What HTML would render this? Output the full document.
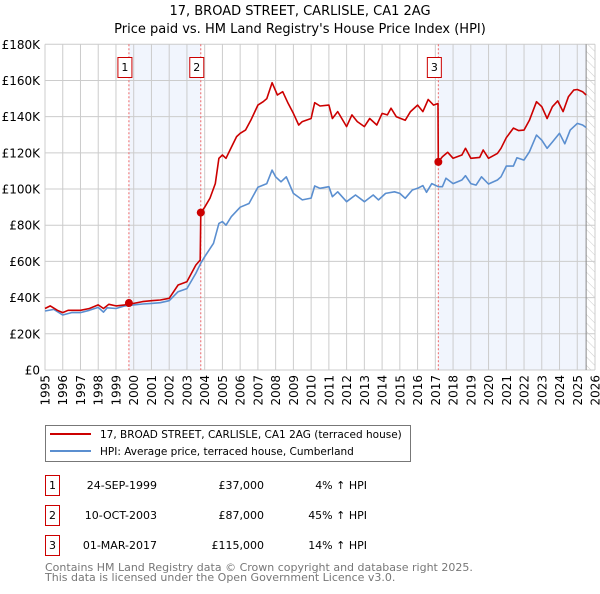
<!DOCTYPE html>
<html><head><meta charset="utf-8"><style>
body{margin:0;background:#fff;font-family:"DejaVu Sans","Liberation Sans",sans-serif;}
svg text{font-family:"DejaVu Sans","Liberation Sans",sans-serif;}
</style></head><body>
<svg id="chart" width="600" height="590" viewBox="0 0 600 590" xmlns="http://www.w3.org/2000/svg">
<defs>
<pattern id="hatch" width="6" height="6" patternUnits="userSpaceOnUse" patternTransform="rotate(-45)">
<line x1="0" y1="0" x2="0" y2="6" stroke="#ccc" stroke-width="1"/>
</pattern>
</defs>
<text x="300" y="15" text-anchor="middle" font-size="13" fill="#000">17, BROAD STREET, CARLISLE, CA1 2AG</text>
<text x="300" y="33" text-anchor="middle" font-size="13" fill="#000">Price paid vs. HM Land Registry's House Price Index (HPI)</text>
<g id="plot"></g>
<g>
<rect x="45.5" y="425.5" width="365" height="36" fill="#fff" stroke="#777"/>
<line x1="50" y1="434" x2="91" y2="434" stroke="#cc0000" stroke-width="2"/>
<text x="100" y="438" font-size="10.5">17, BROAD STREET, CARLISLE, CA1 2AG (terraced house)</text>
<line x1="50" y1="451" x2="91" y2="451" stroke="#5b8fd0" stroke-width="2"/>
<text x="100" y="455" font-size="10.5">HPI: Average price, terraced house, Cumberland</text>
</g>
<g font-size="11">
<rect x="45.5" y="475.5" width="14" height="20" fill="none" stroke="#cc0000"/>
<text x="52.5" y="489" text-anchor="middle">1</text>
<text x="157" y="489" text-anchor="end">24-SEP-1999</text>
<text x="264" y="489" text-anchor="end">£37,000</text>
<text x="367" y="489" text-anchor="end">4% ↑ HPI</text>
<rect x="45.5" y="505.5" width="14" height="20" fill="none" stroke="#cc0000"/>
<text x="52.5" y="519" text-anchor="middle">2</text>
<text x="157" y="519" text-anchor="end">10-OCT-2003</text>
<text x="264" y="519" text-anchor="end">£87,000</text>
<text x="367" y="519" text-anchor="end">45% ↑ HPI</text>
<rect x="45.5" y="535.5" width="14" height="20" fill="none" stroke="#cc0000"/>
<text x="52.5" y="549" text-anchor="middle">3</text>
<text x="157" y="549" text-anchor="end">01-MAR-2017</text>
<text x="264" y="549" text-anchor="end">£115,000</text>
<text x="367" y="549" text-anchor="end">14% ↑ HPI</text>
</g>
<text x="45" y="571" font-size="11" fill="#777">Contains HM Land Registry data © Crown copyright and database right 2025.</text>
<text x="45" y="581" font-size="11" fill="#777">This data is licensed under the Open Government Licence v3.0.</text>
</svg>
<script>
const yTicks=[0,20,40,60,80,100,120,140,160,180];
const yTickLabels=["£0","£20K","£40K","£60K","£80K","£100K","£120K","£140K","£160K","£180K"];
const xYears=[1995,1996,1997,1998,1999,2000,2001,2002,2003,2004,2005,2006,2007,2008,2009,2010,2011,2012,2013,2014,2015,2016,2017,2018,2019,2020,2021,2022,2023,2024,2025,2026];
const hpiT=[1995,1995.5,1996,1996.5,1997,1997.5,1998,1998.3,1998.5,1999,1999.5,1999.73,2000,2000.5,2001,2001.5,2002,2002.5,2003,2003.5,2003.78,2004,2004.5,2004.8,2005,2005.2,2005.5,2006,2006.5,2007,2007.5,2007.8,2008,2008.3,2008.6,2009,2009.5,2010,2010.2,2010.5,2011,2011.2,2011.5,2012,2012.5,2013,2013.5,2013.8,2014.2,2014.7,2015,2015.3,2015.7,2016,2016.3,2016.5,2016.8,2017.17,2017.4,2017.6,2018,2018.5,2018.7,2019,2019.3,2019.6,2020,2020.5,2020.7,2021,2021.4,2021.6,2022,2022.3,2022.7,2023,2023.3,2023.6,2024,2024.3,2024.6,2025,2025.3,2025.5];
const hpiV=[32.6,33.5,30.4,31.7,31.7,33,34.6,32,34.4,34,35.4,35.7,36,36.5,36.8,37.2,38.3,43.3,45,53.4,59,62.6,70,81,82,80,84.7,90,92,101,103,110.5,106.8,104,106.8,97.6,94,95,101.7,100.4,101.3,95.8,98.5,93,96.7,93,96.7,94,97.6,98.5,97.6,94.9,99.5,100.4,101.9,98.2,103,101.3,101.3,106,103,105,107.4,103,102.2,106.8,102.8,105,106.8,112.7,112.7,117.3,116,120.6,129.8,127,122.5,126,130.8,125,132.6,136.3,135.4,134];
const priceT=[1995,1995.3,1995.7,1996,1996.3,1997,1997.5,1998,1998.3,1998.6,1999,1999.5,1999.73,2000,2000.5,2001,2001.5,2002,2002.5,2003,2003.5,2003.75,2003.78,2004,2004.3,2004.6,2004.8,2005,2005.2,2005.5,2005.8,2006,2006.3,2006.6,2007,2007.3,2007.5,2007.8,2008.1,2008.4,2008.7,2009,2009.3,2009.5,2010,2010.2,2010.5,2011,2011.2,2011.5,2012,2012.3,2012.6,2013,2013.3,2013.7,2014,2014.3,2014.5,2014.8,2015.3,2015.6,2016,2016.3,2016.6,2016.9,2017.15,2017.17,2017.4,2017.7,2018,2018.5,2018.7,2019,2019.5,2019.7,2020,2020.5,2020.7,2021,2021.4,2021.7,2022,2022.3,2022.7,2023,2023.3,2023.6,2023.9,2024.2,2024.5,2024.8,2025,2025.3,2025.5];
const priceV=[34,35.4,33,31.7,33,33,34,36,34,36.3,35.4,36,37,36.8,37.8,38.3,38.7,39.6,47,48.8,58,60.8,87,90,95,103,117,118.8,117,123,129,130.8,132.6,138,146.4,148.3,150,158.8,152,153.8,147.4,141.8,135.4,137.3,139,147.7,145.9,146.4,139,142.8,134.5,141,137.3,134.5,139,135.4,141.8,141,144.7,140,138,142.8,146.4,142.8,149.5,146.4,147.3,115,117.9,120.3,117,118.8,122.5,117,117.5,121.6,117,119.7,122.5,128.4,133.7,132.3,132.6,138,148.3,145.5,139,145.5,148.7,142.8,151,154.7,155,153.8,152];
const saleT=[1999.73,2003.78,2017.17];
const saleV=[37,87,115];
const saleLabels=["1","2","3"];

const NS="http://www.w3.org/2000/svg";
const X0=45,X1=595,Y0=370,Y1=44.3;
const x=t=>X0+(t-1995)/(2026-1995)*(X1-X0);
const y=v=>Y0-v/180*(Y0-Y1);
const plot=document.getElementById('plot');
function mk(tag,attrs,parent){const e=document.createElementNS(NS,tag);for(const k in attrs)e.setAttribute(k,attrs[k]);(parent||plot).appendChild(e);return e;}
mk('rect',{x:X0,y:Y1,width:X1-X0,height:Y0-Y1,fill:'#fff'});
let r=mk('rect',{x:x(saleT[0]),y:Y1,width:x(saleT[1])-x(saleT[0]),height:Y0-Y1,fill:'#eef3fc',opacity:0.8});


r=mk('rect',{x:x(saleT[2]),y:Y1,width:x(2025.5)-x(saleT[2]),height:Y0-Y1,fill:'#eef3fc',opacity:0.8});


r=mk('rect',{x:x(2025.5),y:Y1,width:X1-x(2025.5),height:Y0-Y1,fill:'url(#hatch)'});


yTicks.forEach((v,i)=>{
  const l=mk('line',{x1:X0,x2:X1,y1:y(v),y2:y(v),stroke:'#ccc','stroke-width':1});
  
  
  const t=mk('text',{x:X0-5,y:y(v)+4.5,'text-anchor':'end','font-size':12});
  t.textContent=yTickLabels[i];
  
  
});
xYears.forEach(yr=>{
  const l=mk('line',{x1:x(yr),x2:x(yr),y1:Y1,y2:Y0,stroke:'#ccc','stroke-width':1});
  
  
  const t=mk('text',{x:0,y:0,'text-anchor':'end','font-size':12,transform:`translate(${x(yr)+4.5},${Y0+5}) rotate(-90)`});
  t.textContent=yr;
  
  
});
let ax=mk('line',{x1:x(2025.5),x2:x(2025.5),y1:Y1,y2:Y0,stroke:'#888','stroke-width':1});


saleT.forEach((t,i)=>{
  const l=mk('line',{x1:x(t),x2:x(t),y1:Y1,y2:Y0,stroke:'#e66','stroke-width':1,'stroke-dasharray':'2,2'});
  
  
  const b=mk('rect',{x:x(t)-11,y:57.5,width:14,height:20,fill:'#fff',stroke:'#cc0000'});
  
  
  const tx=mk('text',{x:x(t)-4,y:71,'text-anchor':'middle','font-size':11});
  tx.textContent=saleLabels[i];
  
  
});
const pts=(T,V)=>T.map((t,i)=>x(t).toFixed(1)+','+y(V[i]).toFixed(1)).join(' ');
const hp=mk('polyline',{points:pts(hpiT,hpiV),fill:'none',stroke:'#5b8fd0','stroke-width':1.6,'stroke-linejoin':'round'});


const pp=mk('polyline',{points:pts(priceT,priceV),fill:'none',stroke:'#cc0000','stroke-width':1.6,'stroke-linejoin':'round'});


saleT.forEach((t,i)=>{
  const c=mk('circle',{cx:x(t),cy:y(saleV[i]),r:4,fill:'#cc0000'});
  
  
});
</script>
</body></html>
